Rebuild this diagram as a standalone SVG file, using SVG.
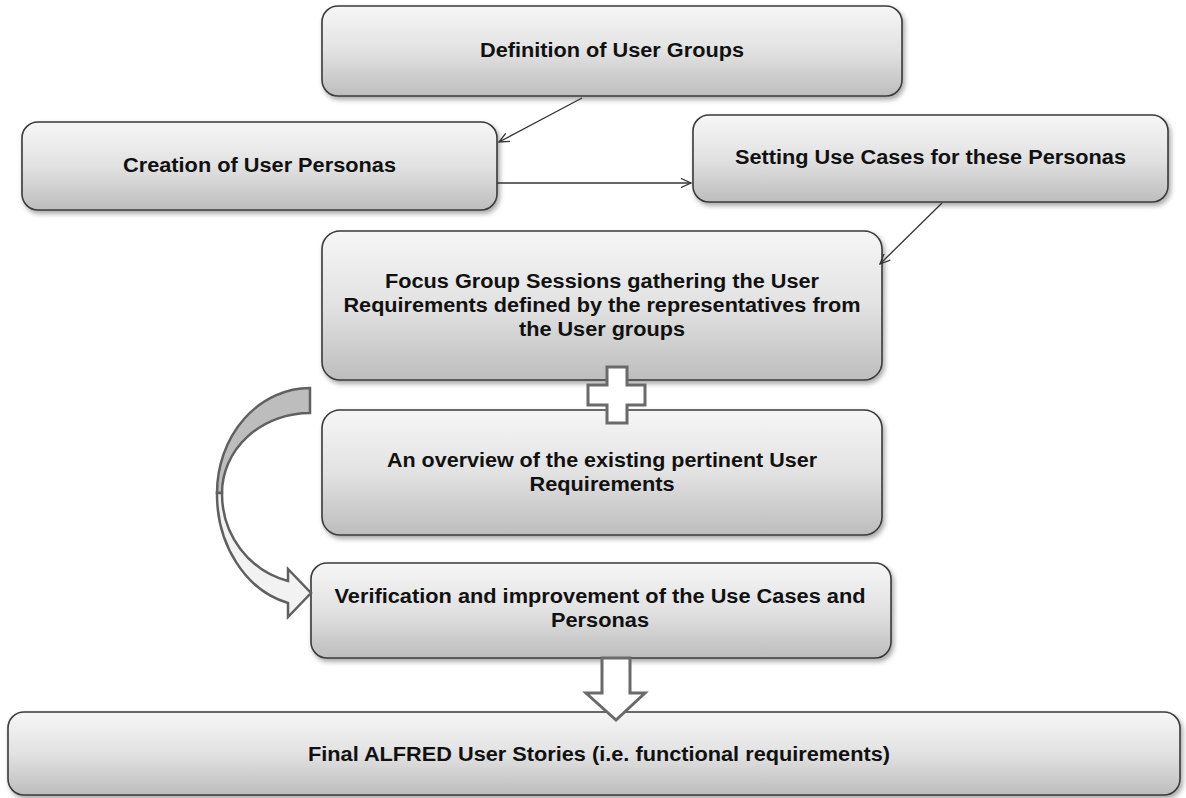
<svg xmlns="http://www.w3.org/2000/svg" width="1186" height="798" viewBox="0 0 1186 798">
  <defs>
    <linearGradient id="boxGrad" x1="0" y1="0" x2="0" y2="1">
      <stop offset="0" stop-color="#f6f6f6"/>
      <stop offset="0.5" stop-color="#e2e2e2"/>
      <stop offset="1" stop-color="#bdbdbd"/>
    </linearGradient>
    <filter id="shadow" x="-5%" y="-10%" width="110%" height="130%">
      <feDropShadow dx="2" dy="3" stdDeviation="2.5" flood-color="#000" flood-opacity="0.35"/>
    </filter>
    <marker id="openArrow" viewBox="0 0 12 10" refX="11" refY="5" markerWidth="12" markerHeight="10" markerUnits="userSpaceOnUse" orient="auto">
      <path d="M1,0.5 L11,5 L1,9.5" fill="none" stroke="#333" stroke-width="1.3"/>
    </marker>
  </defs>
  <style>
    .box { fill: url(#boxGrad); stroke: #3a3a3a; stroke-width: 1.6; filter: url(#shadow); }
    .lbl { font-family: "Liberation Sans", Arial, sans-serif; font-weight: bold; font-size: 20px; fill: #111; text-anchor: middle; }
    .conn { fill: none; stroke: #333; stroke-width: 1.3; marker-end: url(#openArrow); }
    .block { fill: #ffffff; stroke: #6a6a6a; stroke-width: 3; stroke-linejoin: miter; }
    .curveBack { fill: #bdbdbd; stroke: #606060; stroke-width: 2.5; }
    .curveFront { fill: #f2f2f2; stroke: #606060; stroke-width: 2.5; }
  </style>
  <rect width="1186" height="798" fill="#ffffff"/>

  <g id="node-definition">
    <rect class="box" x="322" y="6" width="580" height="90" rx="16"/>
    <text class="lbl" x="612" y="57" textLength="264" lengthAdjust="spacingAndGlyphs">Definition of User Groups</text>
  </g>
  <g id="node-creation">
    <rect class="box" x="22" y="122" width="475" height="88" rx="16"/>
    <text class="lbl" x="259.5" y="172" textLength="273" lengthAdjust="spacingAndGlyphs">Creation of User Personas</text>
  </g>
  <g id="node-setting">
    <rect class="box" x="693" y="115" width="475" height="87" rx="16"/>
    <text class="lbl" x="930.5" y="164" textLength="391" lengthAdjust="spacingAndGlyphs">Setting Use Cases for these Personas</text>
  </g>
  <g id="node-focus">
    <rect class="box" x="322" y="231" width="560" height="149" rx="18"/>
    <text class="lbl" x="602" y="288" textLength="434" lengthAdjust="spacingAndGlyphs">Focus Group Sessions gathering the User</text>
    <text class="lbl" x="602" y="312" textLength="517" lengthAdjust="spacingAndGlyphs">Requirements defined by the representatives from</text>
    <text class="lbl" x="602" y="336" textLength="166" lengthAdjust="spacingAndGlyphs">the User groups</text>
  </g>
  <g id="node-overview">
    <rect class="box" x="322" y="410" width="560" height="125" rx="18"/>
    <text class="lbl" x="602" y="467" textLength="430" lengthAdjust="spacingAndGlyphs">An overview of the existing pertinent User</text>
    <text class="lbl" x="602" y="491" textLength="145" lengthAdjust="spacingAndGlyphs">Requirements</text>
  </g>
  <g id="node-verification">
    <rect class="box" x="311" y="563" width="580" height="95" rx="16"/>
    <text class="lbl" x="600" y="603" textLength="531" lengthAdjust="spacingAndGlyphs">Verification and improvement of the Use Cases and</text>
    <text class="lbl" x="600" y="627" textLength="98" lengthAdjust="spacingAndGlyphs">Personas</text>
  </g>
  <g id="node-final">
    <rect class="box" x="8" y="712" width="1172" height="83" rx="16"/>
    <text class="lbl" x="599" y="761" textLength="582" lengthAdjust="spacingAndGlyphs">Final ALFRED User Stories (i.e. functional requirements)</text>
  </g>

  <g id="connectors">
    <line class="conn" x1="582" y1="98" x2="499" y2="142"/>
    <line class="conn" x1="497" y1="183" x2="691" y2="183"/>
    <line class="conn" x1="942" y1="203" x2="880" y2="264"/>
    <path id="plus" class="block" d="M607,367 H627 V385 H645 V405 H627 V423 H607 V405 H588 V385 H607 Z"/>
    <path id="curve-back" class="curveBack" d="M310,388 A93,105 0 0 0 217,493 L222,493 A88,80 0 0 1 310,413 Z"/>
    <path id="curve-front" class="curveFront" d="M217,493 A93,112 0 0 0 288,603 L288,617 L311,593 L288,569 L288,581 A88,90 0 0 1 222,493 Z"/>
    <path id="down-arrow" class="block" d="M602,658 H630 V693 H645 L616,720 L586,693 H602 Z"/>
  </g>
</svg>
